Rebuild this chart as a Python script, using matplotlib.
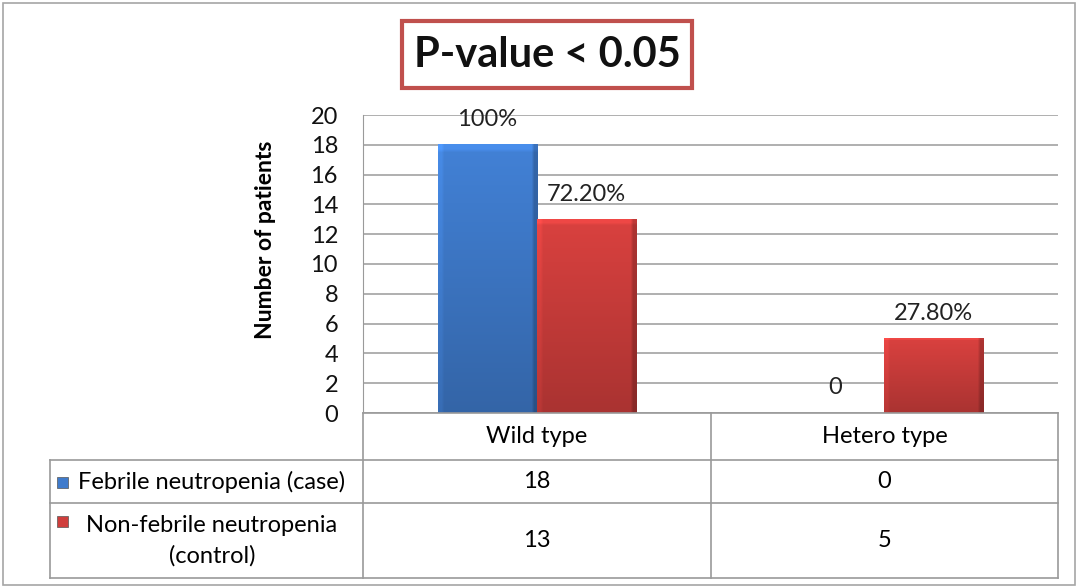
import numpy as np
import matplotlib.pyplot as plt
from matplotlib.patches import Rectangle
from matplotlib.lines import Line2D
from matplotlib.colors import to_rgb

categories = ["Wild type", "Hetero type"]
series_names = ["Febrile neutropenia (case)", "Non-febrile neutropenia\n(control)"]
case_counts = [18, 0]
control_counts = [13, 5]
case_labels = ["100%", "0"]
control_labels = ["72.20%", "27.80%"]
colors = ["#3f7bcc", "#cf3e3c"]

W, H = 1078, 588
plt.rcParams['font.family'] = ['Lato', 'DejaVu Sans']
FS = 17

fig = plt.figure(figsize=(W / 100, H / 100), dpi=100)


def fx(px):
    return px / W


def fy(py):
    return 1 - py / H


# outer frame
fig.patches.append(Rectangle((fx(3), fy(585)), fx(1072), 582 / H, transform=fig.transFigure,
                             fill=False, edgecolor="#a6a6a6", lw=1.2))

ax_l, ax_r, ax_t, ax_b = 363, 1058, 115, 413
ax = fig.add_axes([fx(ax_l), fy(ax_b), fx(ax_r - ax_l), (ax_b - ax_t) / H])

x = np.arange(len(categories))
bw = 0.285


def shade_bar(rect, base):
    bx, by = rect.get_x(), rect.get_y()
    w, h = rect.get_width(), rect.get_height()
    if h <= 0:
        return
    rgb = np.array(to_rgb(base))
    ny, nx = 80, 40
    vy = np.linspace(1.05, 0.82, ny)[:, None]
    hx = np.ones(nx)
    hx[:2] = 1.08
    hx[-2:] = 0.8
    fac = vy * hx[None, :]
    top = np.ones((ny, 1))
    top[:2] = 1.1
    fac = fac * top
    img = np.clip(rgb[None, None, :] * fac[:, :, None], 0, 1)
    ax.imshow(img, extent=[bx, bx + w, by, by + h], aspect='auto', zorder=3, interpolation='bilinear')


for vals, labs, col, off in [(case_counts, case_labels, colors[0], -bw / 2),
                             (control_counts, control_labels, colors[1], bw / 2)]:
    bars = ax.bar(x + off, vals, width=bw, color=col, zorder=2)
    for rect, lab in zip(bars, labs):
        shade_bar(rect, col)
        ax.annotate(lab, (rect.get_x() + rect.get_width() / 2, rect.get_height()),
                    xytext=(0, 18), textcoords='offset points', ha='center', va='center',
                    fontsize=FS, color='#222222', zorder=5)

ax.set_xlim(-0.5, len(categories) - 0.5)
ax.set_ylim(0, 20)
ax.set_yticks(np.arange(0, 21, 2))
ax.yaxis.grid(True, color='#9a9a9a', lw=1.1)
ax.set_axisbelow(True)
ax.set_xticks([])
for s in ['top', 'right', 'bottom']:
    ax.spines[s].set_visible(False)
ax.spines['left'].set_color('#9a9a9a')
ax.tick_params(axis='y', length=0, pad=18, labelsize=FS, labelcolor='#111111')

fig.text(fx(265), fy(240), "Number of patients", rotation=90, ha='center', va='center',
         fontsize=16.5, fontweight='bold')

# title box
fig.text(fx(547), fy(55), "P-value < 0.05", ha='center', va='center', fontsize=30,
         fontweight='bold', color='#111111')
fig.patches.append(Rectangle((fx(402), fy(88)), fx(290), 67 / H, transform=fig.transFigure,
                             fill=False, edgecolor="#c0504d", lw=3))

# data table
lc = '#9a9a9a'
col_edges = [363, 711, 1058]
row_edges = [413, 460, 503, 578]


def hline(y, x0, x1):
    fig.add_artist(Line2D([fx(x0), fx(x1)], [fy(y), fy(y)], color=lc, lw=1.2))


def vline(xp, y0, y1):
    fig.add_artist(Line2D([fx(xp), fx(xp)], [fy(y0), fy(y1)], color=lc, lw=1.2))


hline(row_edges[0], col_edges[0], col_edges[-1])
for r in row_edges[1:]:
    hline(r, 50, col_edges[-1])
vline(50, row_edges[1], row_edges[-1])
vline(col_edges[0], row_edges[0], row_edges[-1])
for c in col_edges[1:]:
    vline(c, row_edges[0], row_edges[-1])

for i, cat in enumerate(categories):
    cx = (col_edges[i] + col_edges[i + 1]) / 2
    fig.text(fx(cx), fy((row_edges[0] + row_edges[1]) / 2), cat, ha='center', va='center', fontsize=FS)
    for j, vals in enumerate([case_counts, control_counts]):
        cy = (row_edges[j + 1] + row_edges[j + 2]) / 2
        fig.text(fx(cx), fy(cy), str(vals[i]), ha='center', va='center', fontsize=FS)

for j, name in enumerate(series_names):
    cy = (row_edges[j + 1] + row_edges[j + 2]) / 2
    ky = cy if j == 0 else cy - 20
    fig.patches.append(Rectangle((fx(57), fy(ky + 6)), fx(11), 11 / H, transform=fig.transFigure,
                                 facecolor=colors[j], edgecolor='#555555', lw=0.5))
    fig.text(fx(212), fy(cy), name, ha='center', va='center', fontsize=FS, multialignment='center',
             linespacing=1.5)

fig.savefig("out.png", dpi=100)
